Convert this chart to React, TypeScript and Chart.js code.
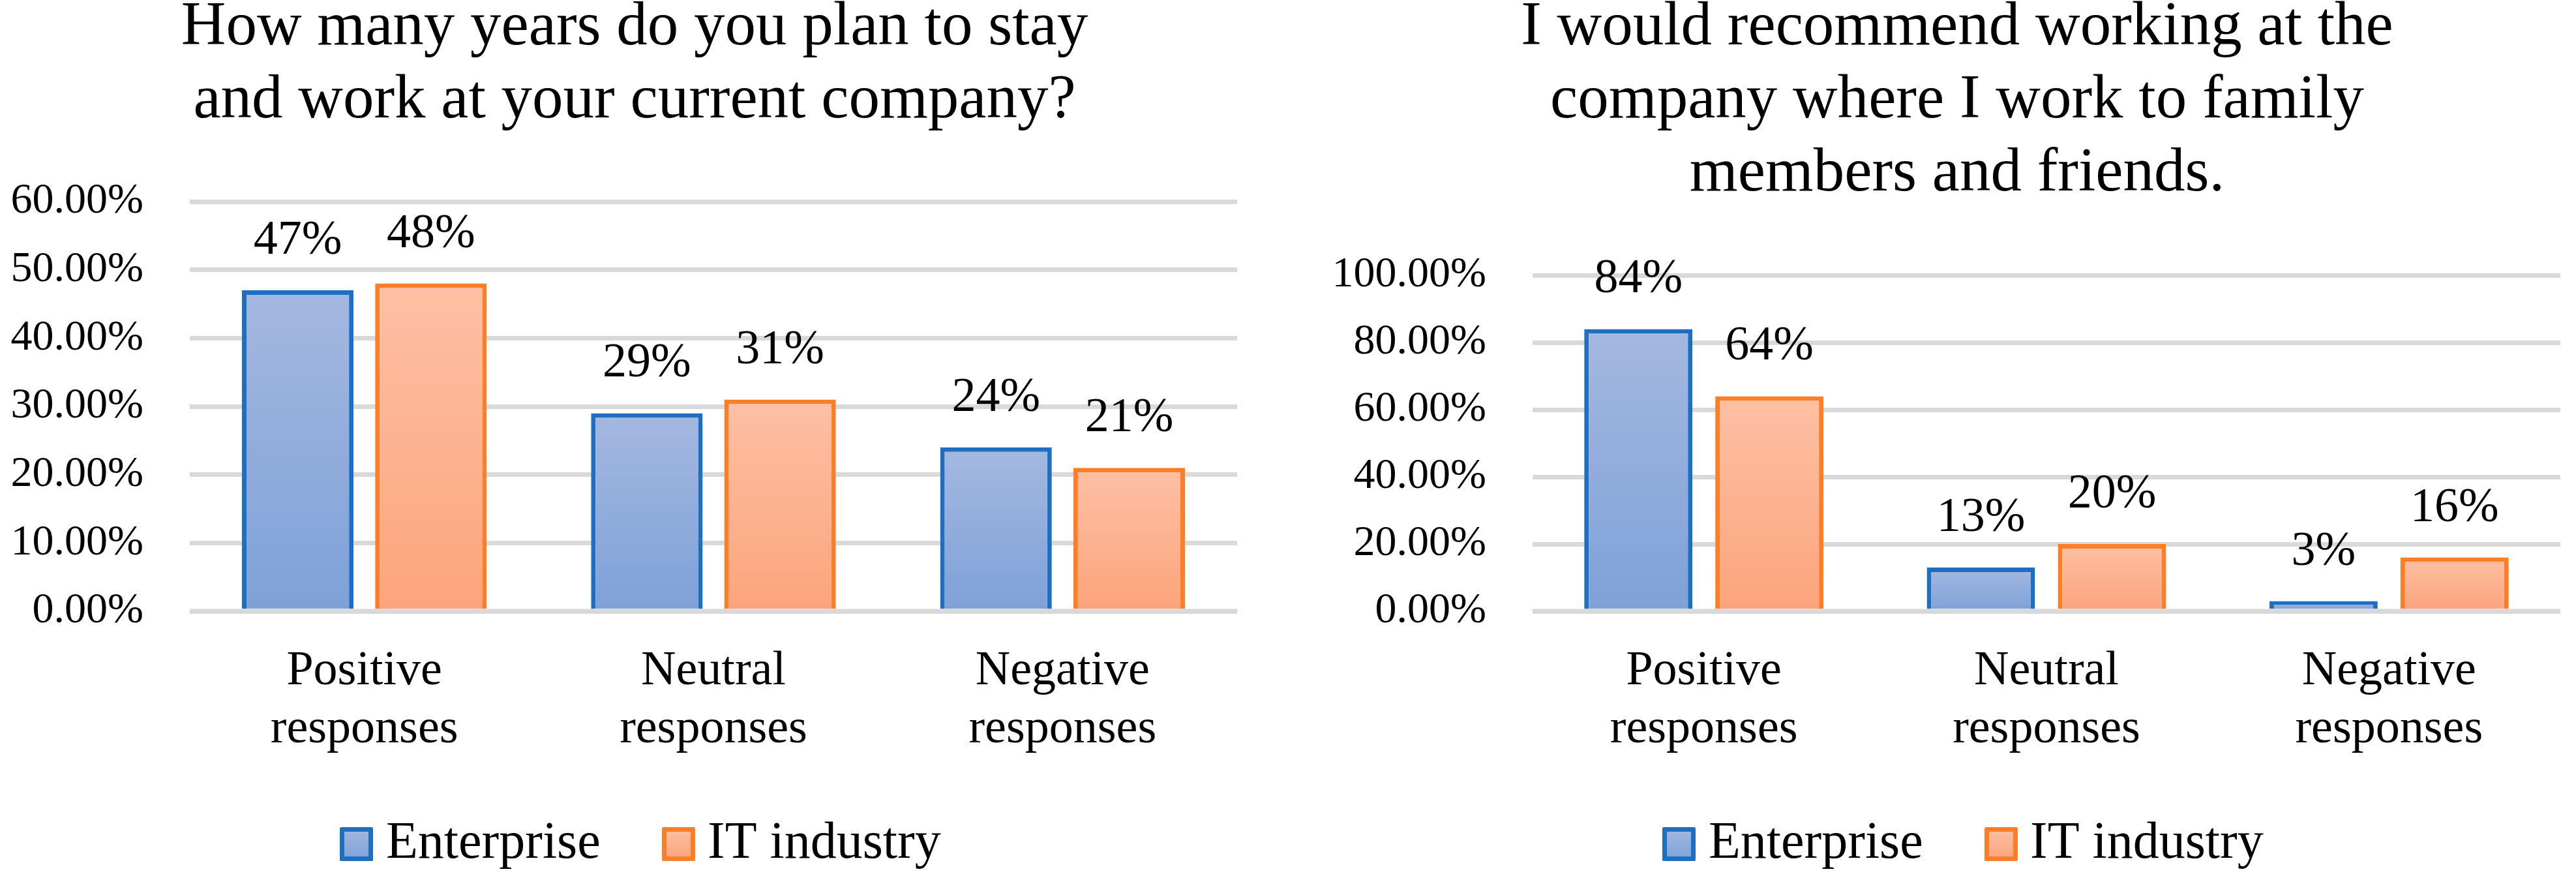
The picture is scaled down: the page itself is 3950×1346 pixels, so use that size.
import React, { useEffect, useRef } from 'react';
import { Chart, registerables } from 'chart.js';

Chart.register(...registerables);

// ---------- data ----------
const categories = [
  ['Positive', 'responses'],
  ['Neutral', 'responses'],
  ['Negative', 'responses'],
];
const seriesNames = ['Enterprise', 'IT industry'];

const stayTitle = ['How many years do you plan to stay', 'and work at your current company?'];
const stayEnterprise = [47, 29, 24];
const stayIT = [48, 31, 21];
const stayTicks = [0, 10, 20, 30, 40, 50, 60];

const recommendTitle = [
  'I would recommend working at the',
  'company where I work to family',
  'members and friends.',
];
const recommendEnterprise = [84, 13, 3];
const recommendIT = [64, 20, 16];
const recommendTicks = [0, 20, 40, 60, 80, 100];

// ---------- styles ----------
const FONT = "'Liberation Serif', 'Times New Roman', serif";
const BLUE_BORDER = '#1E6FC1';
const BLUE_TOP = '#A4B8E0';
const BLUE_BOTTOM = '#7EA1D8';
const ORANGE_BORDER = '#FE7E28';
const ORANGE_TOP = '#FDC0A4';
const ORANGE_BOTTOM = '#FCA47C';
const GRID = '#D9D9D9';

type PanelProps = {
  left: number;
  title: string[];
  titleX: number;
  enterprise: number[];
  it: number[];
  ticks: number[];
  areaTop: number;
  axisWidth: number;
  padRight: number;
  catPct: number;
  barPct: number;
  legendBoxX: number[];
  legendTextX: number[];
};

const W = 1975;
const H = 1346;

function gradientFill(top: string, bottom: string) {
  return (ctx: any) => {
    const chart = ctx.chart;
    const y = chart.scales && chart.scales.y;
    if (!chart.chartArea || !y || !ctx.parsed) return bottom;
    const t = y.getPixelForValue(ctx.parsed.y);
    const b = y.getPixelForValue(0);
    if (!isFinite(t) || !isFinite(b) || Math.abs(b - t) < 1) return top;
    const g = chart.ctx.createLinearGradient(0, t, 0, b);
    g.addColorStop(0, top);
    g.addColorStop(1, bottom);
    return g;
  };
}

function Panel(p: PanelProps) {
  const ref = useRef<HTMLCanvasElement>(null);

  useEffect(() => {
    const canvas = ref.current;
    if (!canvas) return;

    const annotate = {
      id: 'annotate',
      afterDatasetsDraw(chart: any) {
        const c = chart.ctx;
        const area = chart.chartArea;
        const y0 = chart.scales.y.getPixelForValue(0);
        c.save();
        // baseline (drawn over the bar bottoms)
        c.fillStyle = GRID;
        c.fillRect(area.left, y0 - 3.5, area.right - area.left, 7);
        // value labels
        c.fillStyle = '#000';
        c.font = `74px ${FONT}`;
        c.textAlign = 'center';
        c.textBaseline = 'alphabetic';
        chart.data.datasets.forEach((ds: any, i: number) => {
          const meta = chart.getDatasetMeta(i);
          meta.data.forEach((bar: any, j: number) => {
            c.fillText(`${ds.data[j]}%`, bar.x, bar.y - 56);
          });
        });
        c.restore();
      },
      afterDraw(chart: any) {
        const c = chart.ctx;
        c.save();
        // title
        c.fillStyle = '#000';
        c.font = `95px ${FONT}`;
        c.textAlign = 'center';
        c.textBaseline = 'alphabetic';
        p.title.forEach((line, i) => c.fillText(line, p.titleX, 68 + i * 112));
        // legend
        const cols = [
          [BLUE_TOP, BLUE_BOTTOM, BLUE_BORDER],
          [ORANGE_TOP, ORANGE_BOTTOM, ORANGE_BORDER],
        ];
        const by = 1268;
        const bw = 51;
        const bh = 52;
        seriesNames.forEach((name, i) => {
          const bx = p.legendBoxX[i];
          const g = c.createLinearGradient(0, by, 0, by + bh);
          g.addColorStop(0, cols[i][0]);
          g.addColorStop(1, cols[i][1]);
          c.fillStyle = g;
          c.fillRect(bx, by, bw, bh);
          c.strokeStyle = cols[i][2];
          c.lineWidth = 7;
          c.lineJoin = 'round';
          c.strokeRect(bx + 3.5, by + 3.5, bw - 7, bh - 7);
          c.fillStyle = '#000';
          c.font = `80px ${FONT}`;
          c.textAlign = 'left';
          c.fillText(name, p.legendTextX[i], 1315);
        });
        c.restore();
      },
    };

    const chart = new Chart(canvas, {
      type: 'bar',
      data: {
        labels: categories,
        datasets: [
          {
            label: seriesNames[0],
            data: p.enterprise,
            backgroundColor: gradientFill(BLUE_TOP, BLUE_BOTTOM),
            borderColor: BLUE_BORDER,
            borderWidth: 7,
            categoryPercentage: p.catPct,
            barPercentage: p.barPct,
          },
          {
            label: seriesNames[1],
            data: p.it,
            backgroundColor: gradientFill(ORANGE_TOP, ORANGE_BOTTOM),
            borderColor: ORANGE_BORDER,
            borderWidth: 7,
            categoryPercentage: p.catPct,
            barPercentage: p.barPct,
          },
        ],
      },
      options: {
        responsive: false,
        animation: false,
        devicePixelRatio: 1,
        layout: { padding: { top: p.areaTop, right: p.padRight, left: 0, bottom: 0 } },
        plugins: {
          legend: { display: false },
          title: { display: false },
          tooltip: { enabled: false },
        },
        scales: {
          x: {
            grid: { display: false, drawTicks: false },
            border: { display: false },
            ticks: {
              color: '#000',
              font: { family: FONT, size: 74, lineHeight: 1.2 },
              padding: 48,
              maxRotation: 0,
              autoSkip: false,
            },
            afterFit: (s: any) => {
              s.height = 409;
            },
          },
          y: {
            min: p.ticks[0],
            max: p.ticks[p.ticks.length - 1],
            grid: { color: GRID, lineWidth: 7, drawTicks: false },
            border: { display: false },
            ticks: {
              color: '#000',
              font: { family: FONT, size: 66 },
              padding: 71,
              callback: (v: any) => Number(v).toFixed(2) + '%',
            },
            afterBuildTicks: (s: any) => {
              s.ticks = p.ticks.map((v) => ({ value: v }));
            },
            afterFit: (s: any) => {
              s.width = p.axisWidth;
            },
          },
        },
      } as any,
      plugins: [annotate],
    });

    return () => chart.destroy();
  }, []);

  return (
    <canvas
      ref={ref}
      width={W}
      height={H}
      style={{ position: 'absolute', left: p.left, top: 0, width: W, height: H }}
    />
  );
}

export default function App() {
  return (
    <div
      style={{
        position: 'absolute',
        left: 0,
        top: 0,
        width: 3950,
        height: 1346,
        background: '#fff',
        overflow: 'hidden',
      }}
    >
      <Panel
        left={0}
        title={stayTitle}
        titleX={973}
        enterprise={stayEnterprise}
        it={stayIT}
        ticks={stayTicks}
        areaTop={309}
        axisWidth={291}
        padRight={78}
        catPct={0.763}
        barPct={0.838}
        legendBoxX={[521, 1015]}
        legendTextX={[592, 1085]}
      />
      <Panel
        left={1975}
        title={recommendTitle}
        titleX={1026}
        enterprise={recommendEnterprise}
        it={recommendIT}
        ticks={recommendTicks}
        areaTop={422}
        axisWidth={375}
        padRight={24}
        catPct={0.765}
        barPct={0.826}
        legendBoxX={[574, 1068]}
        legendTextX={[645, 1138]}
      />
    </div>
  );
}
